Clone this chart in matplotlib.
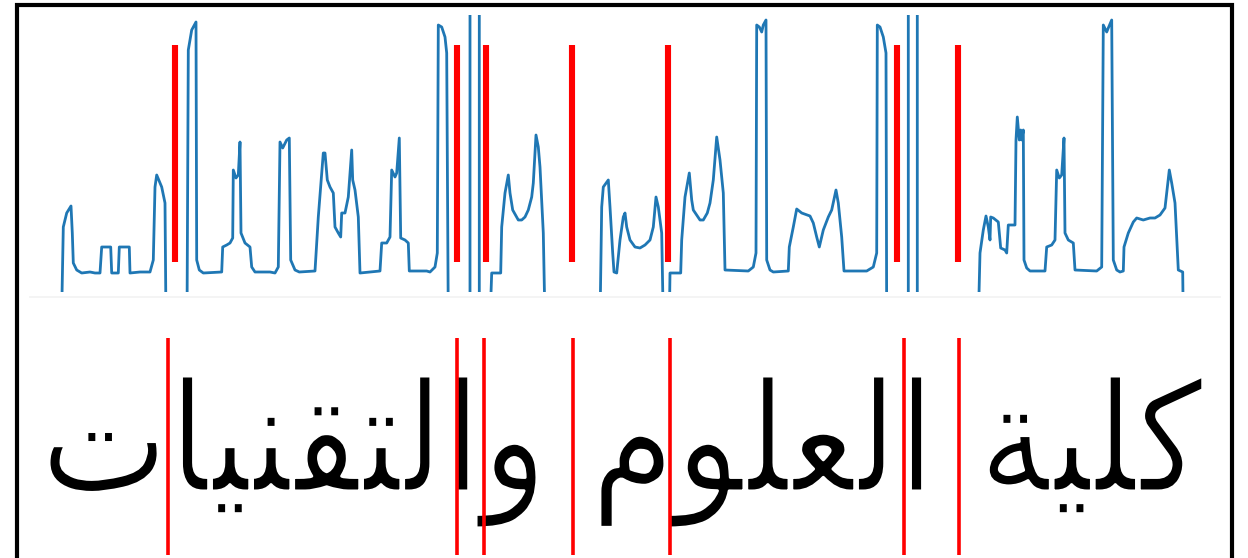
import matplotlib
matplotlib.use("Agg")
import matplotlib.pyplot as plt
import matplotlib.patheffects as pe
from matplotlib.patches import Rectangle

# signal samples (time, amplitude); values below 0 / above 277 are clipped by the axes
t = [61.5, 63.3, 66.7, 71, 72.3, 73.3, 76.7, 81.7, 90, 95, 100, 101.7, 110.7, 111.7, 118.3, 119.3,
     129.3, 130, 140, 150, 153.3, 155, 156.7, 161.7, 165, 166, 187, 188.3, 191.7, 196, 196.7, 199.3,
     203.3, 221.7, 222.7, 226.7, 230, 232.7, 233.3, 236, 238.3, 240, 241, 245, 250, 251.7, 255, 270,
     275, 278.3, 280, 282.7, 286.7, 289.3, 290.7, 295, 299.3, 315, 318.3, 323.3, 325, 327.3, 330,
     333.3, 335, 338.3, 340.7, 341.7, 345, 348.3, 351.7, 352.7, 355, 358.3, 360, 380, 381.7, 386.7,
     390, 391.7, 395, 396.7, 399.3, 400.7, 405, 408.3, 409.3, 426.7, 430, 435, 437.3, 438.3, 441.7,
     445, 446.7, 448.3, 470, 470, 479.3, 479.3, 490, 491.7, 500.7, 501.7, 505, 508.3, 510, 512.7,
     518.3, 521.7, 525, 528.3, 531.7, 533.3, 536, 538.3, 540, 543.3, 545, 600, 601.7, 603.3, 608.3,
     610, 612.7, 614, 616.7, 620, 623.3, 625, 626.7, 630, 635, 640, 645, 650, 653.3, 656, 658.3,
     661.7, 663.3, 669.3, 670, 680.7, 681.7, 685, 689.3, 691.7, 693.3, 700, 703.3, 707.3, 710, 713.3,
     716.7, 720, 723.3, 725, 748.3, 753.3, 756, 756.7, 759.3, 761.7, 763.3, 766, 766.7, 770, 773.3,
     788.3, 789.3, 793.3, 796.7, 801.7, 810, 813.3, 816.7, 819.3, 823.3, 828.3, 831.7, 836, 838.3,
     841.7, 844, 866.7, 873.3, 876.7, 877.3, 880, 883.3, 886, 886.7, 908.3, 908.3, 917.3, 917.3,
     978.3, 980, 983.3, 986, 988.3, 990, 990.7, 993.3, 998.3, 1000.7, 1005, 1006.7, 1008.3, 1015,
     1016, 1017.3, 1019.3, 1020.7, 1021.7, 1023.3, 1024, 1026.7, 1030, 1045, 1046.7, 1051.7, 1055,
     1056.7, 1059.3, 1061.7, 1064, 1065, 1068.3, 1073.3, 1075, 1096.7, 1101.7, 1103.3, 1106.7, 1108.3,
     1111.7, 1113.3, 1116.7, 1120, 1123.3, 1124, 1128.3, 1133.3, 1136.7, 1143.3, 1150, 1155, 1160,
     1165, 1169.3, 1171.7, 1175, 1178.3, 1182.7, 1183.3]
amp = [-30, 65, 79, 86, 59, 29, 22, 19, 20, 19, 19, 45, 45, 19, 19, 45,
       45, 19, 20, 20, 32, 105, 117, 105, 89, -30, -30, 242, 262, 270, 32, 22,
       19, 20, 45, 47, 49, 54, 122, 114, 117, 150, 59, 49, 45, 25, 20, 20,
       19, 25, 150, 144, 152, 154, 32, 22, 20, 21, 75, 139, 139, 112, 105,
       99, 65, 59, 55, 79, 79, 95, 142, 112, 102, 75, 19, 21, 49, 49,
       55, 122, 115, 119, 154, 54, 52, 49, 21, 21, 20, 25, 39, 267, 265,
       255, 239, -30, -30, 300, 300, -30, -30, 19, 19, 65, 99, 117, 99, 82,
       72, 72, 75, 82, 95, 109, 157, 145, 125, 59, -30, -30, 85, 105, 112,
       85, 39, 20, 19, 52, 75, 79, 65, 52, 45, 44, 47, 52, 65, 95, 85,
       59, -30, -30, 19, 19, 52, 95, 119, 92, 82, 72, 72, 79, 89, 112,
       155, 132, 99, 22, 21, 25, 39, 267, 265, 260, 267, 272, 32, 22, 20,
       21, 45, 65, 83, 79, 76, 69, 55, 45, 62, 75, 82, 102, 89,
       55, 21, 21, 25, 39, 267, 265, 255, 239, -30, -30, 300, 300, -30,
       -30, 39, 62, 76, 65, 52, 75, 74, 70, 44, 42, 39, 67, 67,
       152, 175, 152, 162, 152, 162, 32, 24, 21, 21, 45, 47, 52,
       122, 114, 117, 154, 59, 52, 49, 22, 21, 25, 267, 260, 264,
       272, 32, 22, 20, 21, 45, 59, 70, 74, 72, 74, 74, 77,
       84, 122, 109, 89, 22, 20, -30]

# segment boundaries marked on the signal and under the text
top_marks = [175, 457, 486, 572, 668, 897, 958]
bottom_marks = [168, 457, 484, 573, 670, 904, 959]

# "كلية العلوم والتقنيات" in shaped presentation forms, visual (left-to-right) order
label = ("\uFE95\uFE8E\uFEF4\uFEE8\uFED8\uFE98\uFEDF\uFE8D\uFEED"
         " \uFEE1\uFEEE\uFEE0\uFECC\uFEDF\uFE8D"
         " \uFE94\uFEF4\uFEE0\uFEDB")

W, H = 1248, 558
fig = plt.figure(figsize=(W / 100, H / 100), dpi=100)

# signal axes: spans pixel rows 15..292
ax = fig.add_axes([0, (H - 292) / H, 1, 277 / H])
ax.plot(t, amp, color="#1f77b4", lw=2.0, solid_joinstyle="round")
ax.vlines(top_marks, 30, 247, color="red", lw=4.4)
ax.set_xlim(0, W)
ax.set_ylim(0, 277)
ax.axis("off")

# overlay in pixel units for the text part
ov = fig.add_axes([0, 0, 1, 1], zorder=-1)
ov.set_xlim(0, W)
ov.set_ylim(H, 0)
ov.axis("off")
ov.plot([30, 1220], [297, 297], color="#f2f2f2", lw=1.2)
txt = ov.text(621, 491, label, ha="center", va="baseline", fontsize=109,
              family="DejaVu Sans", stretch="condensed", color="black", zorder=1)
# thin the glyphs a bit with a white outline
txt.set_path_effects([pe.Stroke(linewidth=2.2, foreground="white")])
ov.vlines(bottom_marks, 338, 555, color="red", lw=2.6, zorder=2)

# frame
fig.patches.append(Rectangle((17 / W, -0.05), (1232 - 17) / W, 1.05 - 5 / H,
                             transform=fig.transFigure, fill=False,
                             edgecolor="black", lw=3.0))

fig.savefig("out.png", dpi=100)
